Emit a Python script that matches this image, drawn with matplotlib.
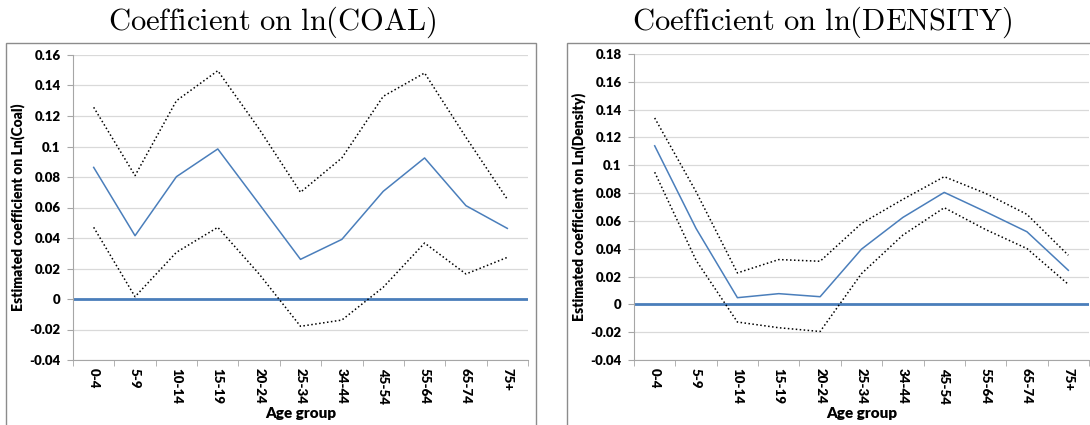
import matplotlib.pyplot as plt
from matplotlib.patches import Rectangle

# age groups on the horizontal axis
AGE_GROUPS = ["0-4", "5-9", "10-14", "15-19", "20-24", "25-34",
              "34-44", "45-54", "55-64", "65-74", "75+"]

# coefficient on ln(COAL): estimate with upper / lower bounds
coal_est = [0.0863, 0.0415, 0.0802, 0.0984, 0.0623, 0.0260,
            0.0391, 0.0706, 0.0925, 0.0612, 0.0463]
coal_upper = [0.1257, 0.0809, 0.1300, 0.1497, 0.1115, 0.0700,
              0.0925, 0.1329, 0.1482, 0.1060, 0.0654]
coal_lower = [0.0470, 0.0015, 0.0306, 0.0470, 0.0164, -0.0179,
              -0.0138, 0.0077, 0.0367, 0.0164, 0.0273]

# coefficient on ln(DENSITY)
dens_est = [0.1140, 0.0546, 0.0048, 0.0077, 0.0055, 0.0397,
            0.0625, 0.0805, 0.0666, 0.0522, 0.0245]
dens_upper = [0.1340, 0.0810, 0.0226, 0.0322, 0.0310, 0.0582,
              0.0755, 0.0918, 0.0798, 0.0647, 0.0353]
dens_lower = [0.0950, 0.0317, -0.0127, -0.0168, -0.0195, 0.0221,
              0.0498, 0.0695, 0.0538, 0.0401, 0.0144]

COAL_TICKS = [-0.04, -0.02, 0, 0.02, 0.04, 0.06, 0.08, 0.1, 0.12, 0.14, 0.16]
DENS_TICKS = [-0.04, -0.02, 0, 0.02, 0.04, 0.06, 0.08, 0.1, 0.12, 0.14, 0.16, 0.18]

BLUE = "#4a7ebb"
GRID = "#d9d9d9"
AXIS = "#a6a6a6"

plt.rcParams["font.family"] = ["Lato", "DejaVu Sans"]
plt.rcParams["mathtext.fontset"] = "cm"


def tick_text(v):
    if v == 0:
        return "0"
    return ("%.2f" % v).rstrip("0") if abs(v * 10 - round(v * 10)) < 1e-9 else "%.2f" % v


def coef_panel(ax, est, upper, lower, ticks, ylabel):
    x = list(range(len(AGE_GROUPS)))
    ax.set_xlim(-0.5, len(AGE_GROUPS) - 0.5)
    ax.set_ylim(ticks[0], ticks[-1])

    ax.set_yticks(ticks)
    ax.set_yticklabels([tick_text(t) for t in ticks], fontsize=9.5, fontweight="heavy")
    ax.grid(axis="y", color=GRID, linewidth=0.9)
    ax.set_axisbelow(True)

    # category labels centred, tick marks on the boundaries
    ax.set_xticks(x)
    ax.set_xticklabels(AGE_GROUPS, rotation=-90, fontsize=9.5, fontweight="heavy")
    ax.tick_params(axis="x", which="major", length=0, pad=6)
    ax.set_xticks([i - 0.5 for i in range(len(AGE_GROUPS) + 1)], minor=True)
    ax.tick_params(axis="x", which="minor", length=4, color=AXIS, direction="out")
    ax.tick_params(axis="y", length=4, color=AXIS, pad=5)

    for side in ("top", "right"):
        ax.spines[side].set_visible(False)
    for side in ("left", "bottom"):
        ax.spines[side].set_color(AXIS)
        ax.spines[side].set_linewidth(0.8)

    ax.axhline(0, color=BLUE, linewidth=2.0, zorder=2)
    ax.plot(x, upper, color="black", linestyle=(0, (1, 1.6)), linewidth=1.1, zorder=3)
    ax.plot(x, lower, color="black", linestyle=(0, (1, 1.6)), linewidth=1.1, zorder=3)
    ax.plot(x, est, color=BLUE, linewidth=1.1, zorder=4)

    ax.set_xlabel("Age group", fontsize=11, fontweight="heavy", labelpad=2)
    ax.set_ylabel(ylabel, fontsize=10, fontweight="heavy", labelpad=3)


fig = plt.figure(figsize=(10.9, 4.25), dpi=100)

# chart area frames
fig.patches.append(Rectangle((6 / 1090, -0.05), 530 / 1090, 1.05 - 42.7 / 425,
                             transform=fig.transFigure, fill=False,
                             edgecolor="#8c8c8c", linewidth=1.0))
fig.patches.append(Rectangle((567 / 1090, -0.05), 530 / 1090, 1.05 - 42.7 / 425,
                             transform=fig.transFigure, fill=False,
                             edgecolor="#8c8c8c", linewidth=1.0))

ax1 = fig.add_axes([73 / 1090, 1 - 360 / 425, 455 / 1090, 305 / 425])
ax2 = fig.add_axes([634 / 1090, 1 - 360 / 425, 455 / 1090, 306 / 425])

coef_panel(ax1, coal_est, coal_upper, coal_lower, COAL_TICKS,
           "Estimated coefficient on Ln(Coal)")
coef_panel(ax2, dens_est, dens_upper, dens_lower, DENS_TICKS,
           "Estimated coefficient on Ln(Density)")

fig.text(272 / 1090, 1 - 22 / 425, r"$\mathrm{Coefficient\ on\ ln(COAL)}$",
         ha="center", va="center", fontsize=22)
fig.text(822 / 1090, 1 - 22 / 425, r"$\mathrm{Coefficient\ on\ ln(DENSITY)}$",
         ha="center", va="center", fontsize=22)

fig.savefig("out.png", dpi=100)
